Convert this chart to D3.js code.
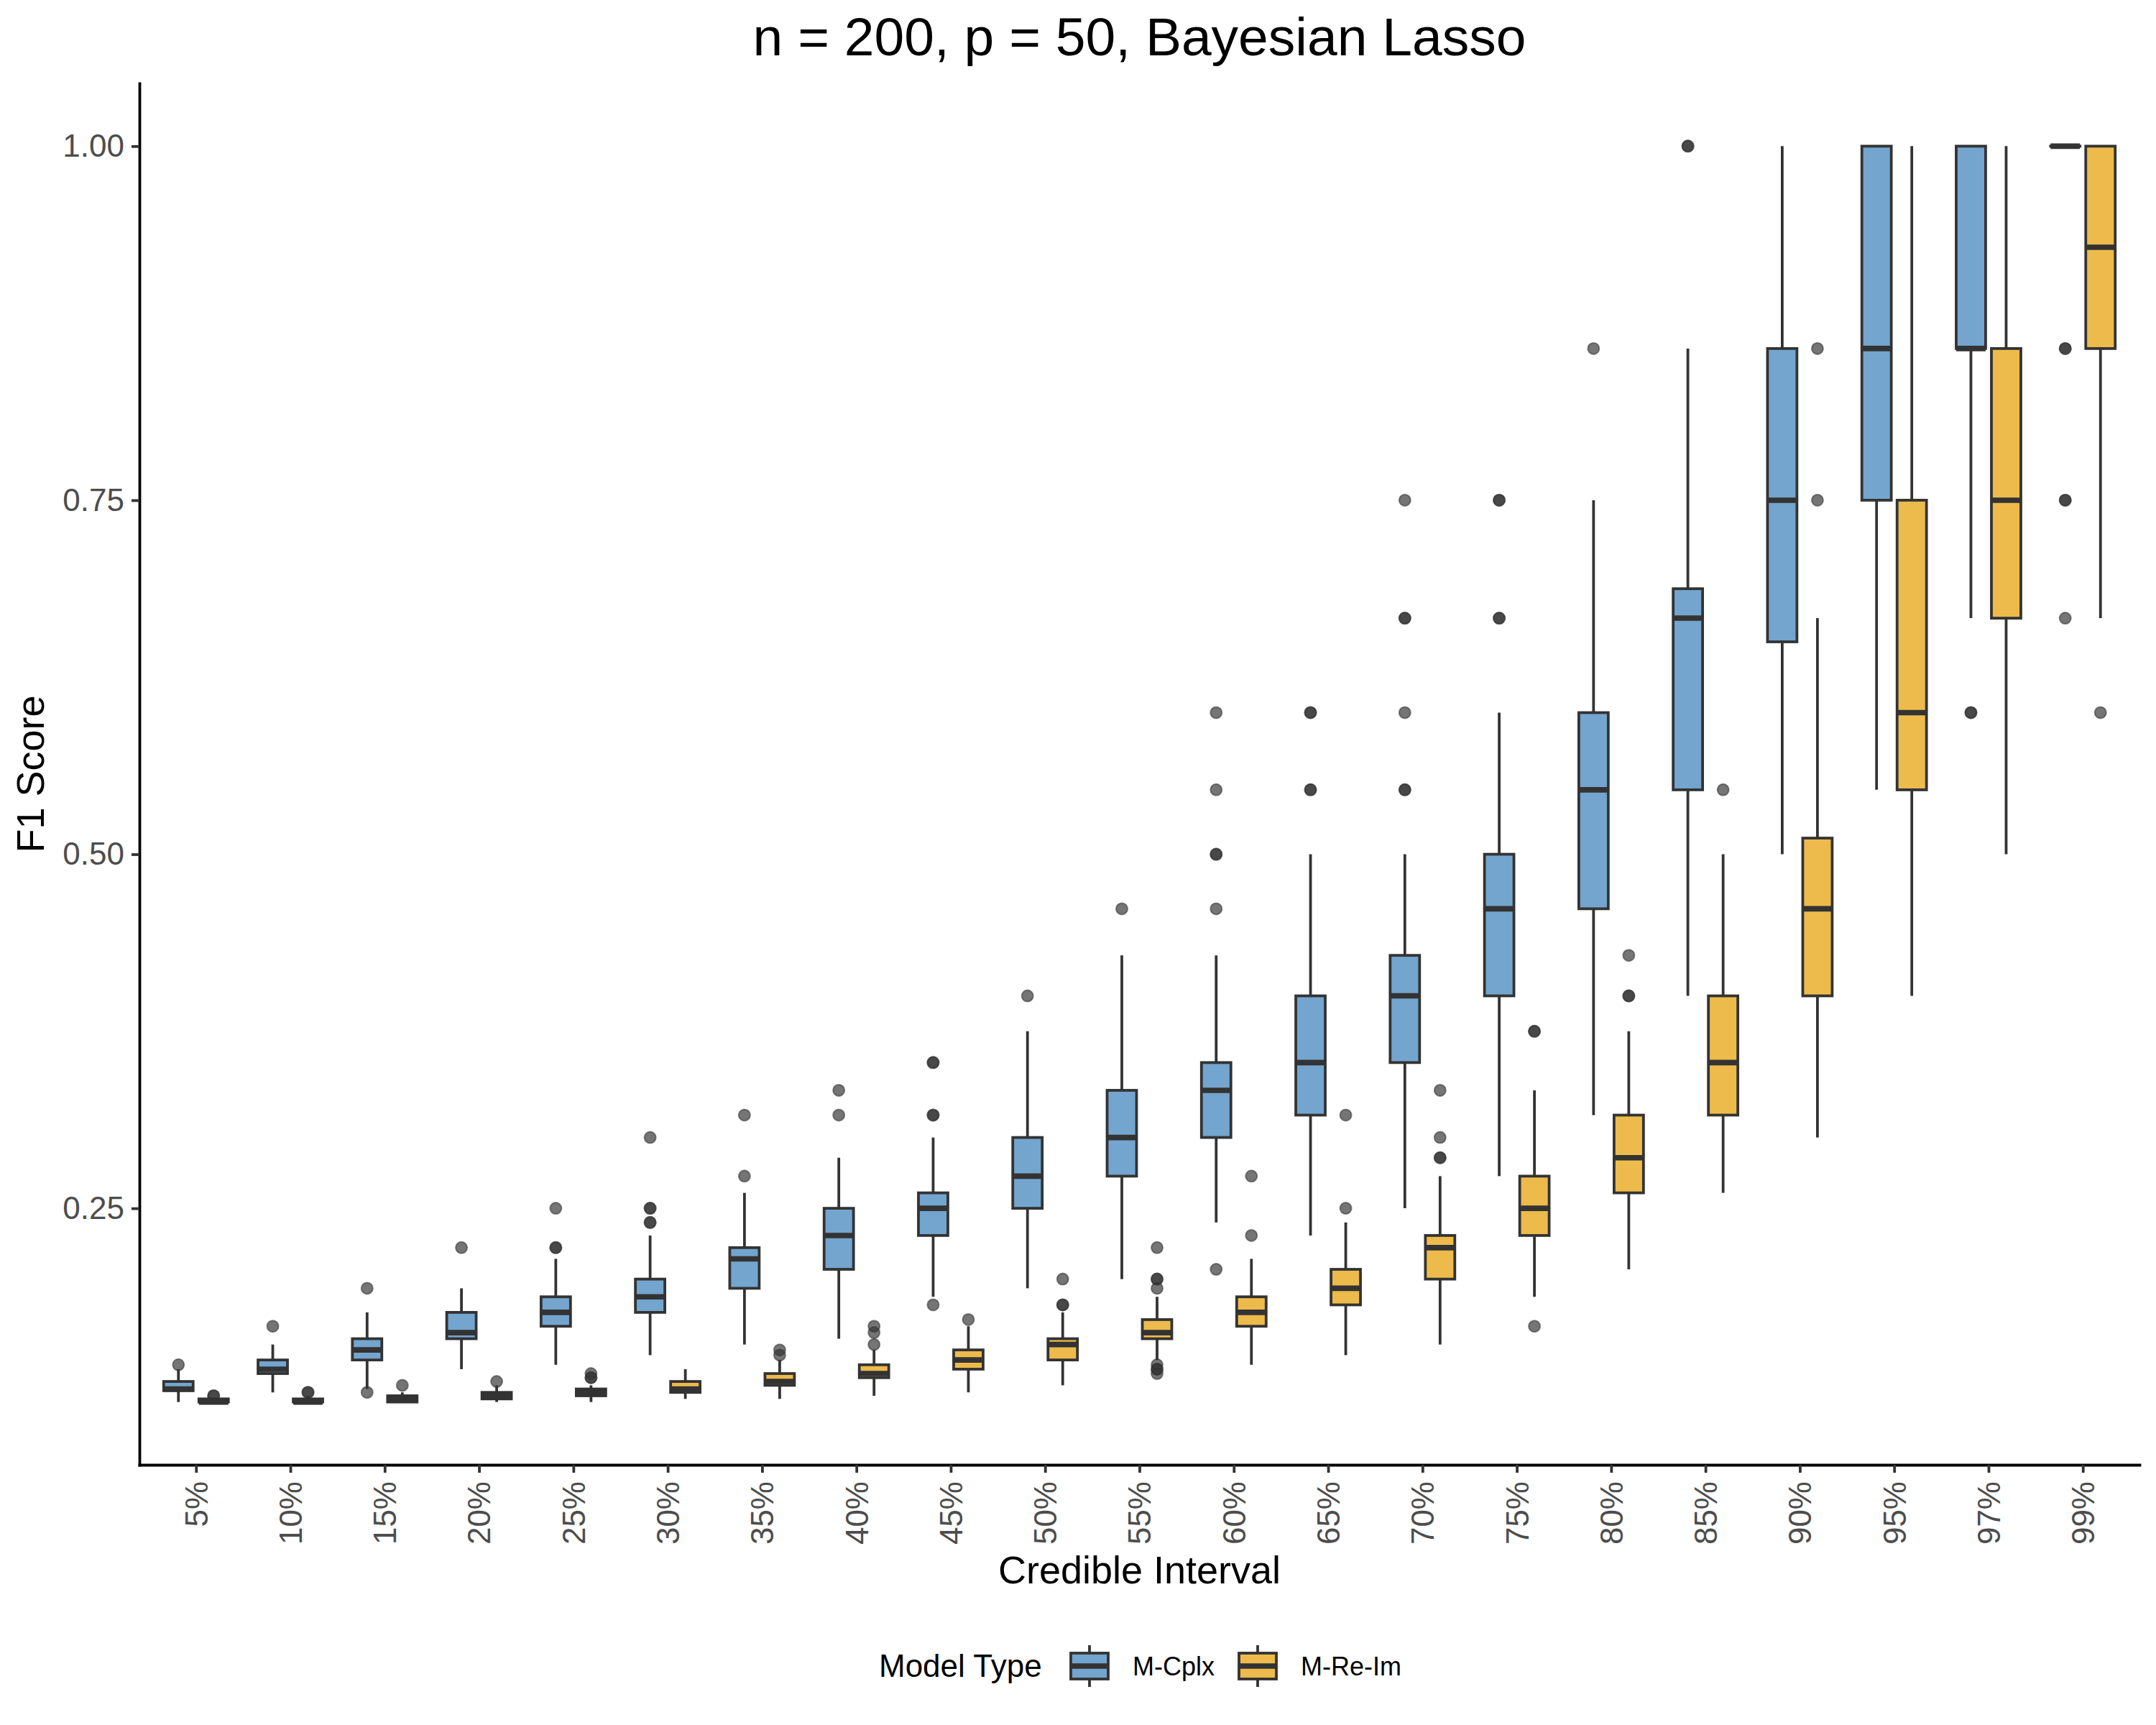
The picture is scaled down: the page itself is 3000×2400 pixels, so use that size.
<!DOCTYPE html>
<html>
<head>
<meta charset="utf-8">
<script src="https://cdn.jsdelivr.net/npm/d3@7"></script>
<style>
  html, body { margin: 0; padding: 0; background: #ffffff; }
  svg { display: block; }
  text { font-family: "Liberation Sans", Arial, Helvetica, sans-serif; }
</style>
</head>
<body>
<script>
// ---------------- DATA ----------------
const categories = ["5%","10%","15%","20%","25%","30%","35%","40%","45%","50%","55%","60%","65%","70%","75%","80%","85%","90%","95%","97%","99%"];
const seriesNames = ["M-Cplx", "M-Re-Im"];
const seriesColors = ["#73A5CE", "#EDBB4B"];
const yTicks = [0.25, 0.50, 0.75, 1.00];

// M-Cplx box statistics (lower whisker, Q1, median, Q3, upper whisker, outliers)
const cplxLow  = [0.1132,0.1200,0.1224,0.1364,0.1395,0.1463,0.1538,0.1579,0.1875,0.1935,0.2000,0.2400,0.2308,0.2500,0.2727,0.3158,0.4000,0.5000,0.5455,0.6667,1.0000];
const cplxQ1   = [0.1212,0.1333,0.1429,0.1579,0.1667,0.1765,0.1935,0.2069,0.2308,0.2500,0.2727,0.3000,0.3158,0.3529,0.4000,0.4615,0.5455,0.6500,0.7500,0.8571,1.0000];
const cplxMed  = [0.1224,0.1364,0.1500,0.1622,0.1765,0.1875,0.2143,0.2308,0.2500,0.2727,0.3000,0.3333,0.3529,0.4000,0.4615,0.5455,0.6667,0.7500,0.8571,0.8571,1.0000];
const cplxQ3   = [0.1277,0.1429,0.1579,0.1765,0.1875,0.2000,0.2222,0.2500,0.2609,0.3000,0.3333,0.3529,0.4000,0.4286,0.5000,0.6000,0.6875,0.8571,1.0000,1.0000,1.0000];
const cplxHigh = [0.1364,0.1538,0.1765,0.1935,0.2143,0.2308,0.2609,0.2857,0.3000,0.3750,0.4286,0.4286,0.5000,0.5000,0.6000,0.7500,0.8571,1.0000,1.0000,1.0000,1.0000];
const cplxOut  = [
  [0.1395],[0.1667],[0.1935,0.1200],[0.2222],[0.2500,0.2222,0.2222],
  [0.3000,0.2500,0.2500,0.2400,0.2400],[0.3158,0.2727],[0.3333,0.3158],
  [0.3529,0.3529,0.3158,0.3158,0.1818],[0.4000],[0.4615],
  [0.6000,0.5455,0.5000,0.5000,0.4615,0.2069],[0.6000,0.6000,0.5455,0.5455],
  [0.7500,0.6667,0.6667,0.6000,0.5455,0.5455],[0.7500,0.7500,0.6667,0.6667],
  [0.8571],[1.0000,1.0000],[],[],[0.6000,0.6000],[0.8571,0.8571,0.7500,0.7500,0.6667]
];

// M-Re-Im box statistics
const reimLow  = [0.1132,0.1132,0.1132,0.1132,0.1132,0.1154,0.1154,0.1176,0.1200,0.1250,0.1429,0.1395,0.1463,0.1538,0.1875,0.2069,0.2609,0.3000,0.4000,0.5000,0.6667];
const reimQ1   = [0.1132,0.1132,0.1132,0.1154,0.1176,0.1200,0.1250,0.1304,0.1364,0.1429,0.1579,0.1667,0.1818,0.2000,0.2308,0.2609,0.3158,0.4000,0.5455,0.6667,0.8571];
const reimMed  = [0.1132,0.1132,0.1154,0.1176,0.1200,0.1224,0.1277,0.1333,0.1429,0.1538,0.1622,0.1765,0.1935,0.2222,0.2500,0.2857,0.3529,0.4615,0.6000,0.7500,0.9286];
const reimQ3   = [0.1154,0.1154,0.1176,0.1200,0.1224,0.1277,0.1333,0.1395,0.1500,0.1579,0.1714,0.1875,0.2069,0.2308,0.2727,0.3158,0.4000,0.5114,0.7500,0.8571,1.0000];
const reimHigh = [0.1154,0.1176,0.1200,0.1250,0.1250,0.1364,0.1429,0.1500,0.1667,0.1765,0.1875,0.2143,0.2400,0.2727,0.3333,0.3750,0.5000,0.6667,1.0000,1.0000,1.0000];
const reimOut  = [
  [0.1176,0.1176],[0.1200,0.1200],[0.1250],[0.1277],[0.1333,0.1304,0.1304],
  [],[0.1500,0.1463],[0.1667,0.1622,0.1538],[0.1714],[0.2000,0.1818,0.1818],
  [0.2222,0.2000,0.2000,0.1935,0.1395,0.1364,0.1364,0.1333],[0.2727,0.2308],
  [0.3158,0.2500],[0.3333,0.3000,0.2857,0.2857],[0.3750,0.3750,0.1667],
  [0.4286,0.4000,0.4000],[0.5455],[0.8571,0.7500],[],[],[0.6000]
];

// ---------------- LAYOUT ----------------
const W = 3000, H = 2400;
const plotL = 194, plotR = 2977, plotT = 116, plotB = 2038;
const dark = "#333333";
const lw = 3.8;

const svg = d3.select("body").append("svg")
  .attr("width", W).attr("height", H)
  .attr("viewBox", `0 0 ${W} ${H}`);
svg.append("rect").attr("width", W).attr("height", H).attr("fill", "#ffffff");

const x = d3.scalePoint().domain(categories).range([plotL, plotR]).padding(0.6);
const step = x.step();
const dataMin = d3.min([d3.min(cplxLow), d3.min(reimLow)]);
const dataMax = 1.0;
const ex = (dataMax - dataMin) * 0.05;
const y = d3.scaleLinear().domain([dataMin - ex, dataMax + ex]).range([plotB, plotT]);

const dodge = step * 0.1867;
const boxW = step * 0.312;

const seriesStats = [
  {low: cplxLow, q1: cplxQ1, med: cplxMed, q3: cplxQ3, high: cplxHigh, out: cplxOut},
  {low: reimLow, q1: reimQ1, med: reimMed, q3: reimQ3, high: reimHigh, out: reimOut}
];

const gPlot = svg.append("g");

seriesStats.forEach((s, si) => {
  const off = si === 0 ? -dodge : dodge;
  const rows = categories.map((c, i) => ({
    c, low: s.low[i], q1: s.q1[i], med: s.med[i], q3: s.q3[i], high: s.high[i], out: s.out[i]
  }));
  const g = gPlot.append("g").attr("class", "series-" + si);

  // outliers
  rows.forEach(r => {
    g.selectAll(null).data(r.out).enter().append("circle")
      .attr("cx", x(r.c) + off)
      .attr("cy", d => y(d))
      .attr("r", 8)
      .attr("fill", dark)
      .attr("fill-opacity", 0.68)
      .attr("stroke", dark)
      .attr("stroke-opacity", 0.55)
      .attr("stroke-width", 2);
  });

  // whiskers
  g.selectAll(".wu").data(rows).enter().append("line")
    .attr("x1", d => x(d.c) + off).attr("x2", d => x(d.c) + off)
    .attr("y1", d => y(d.q3)).attr("y2", d => y(d.high))
    .attr("stroke", dark).attr("stroke-width", lw);
  g.selectAll(".wl").data(rows).enter().append("line")
    .attr("x1", d => x(d.c) + off).attr("x2", d => x(d.c) + off)
    .attr("y1", d => y(d.q1)).attr("y2", d => y(d.low))
    .attr("stroke", dark).attr("stroke-width", lw);

  // boxes
  g.selectAll(".box").data(rows).enter().append("rect")
    .attr("x", d => x(d.c) + off - boxW / 2)
    .attr("width", boxW)
    .attr("y", d => y(d.q3))
    .attr("height", d => Math.max(0.01, y(d.q1) - y(d.q3)))
    .attr("fill", seriesColors[si])
    .attr("stroke", dark).attr("stroke-width", lw);

  // medians
  g.selectAll(".med").data(rows).enter().append("line")
    .attr("x1", d => x(d.c) + off - boxW / 2).attr("x2", d => x(d.c) + off + boxW / 2)
    .attr("y1", d => y(d.med)).attr("y2", d => y(d.med))
    .attr("stroke", dark).attr("stroke-width", lw * 2);
});

// ---------------- AXES ----------------
const yAxis = svg.append("g").attr("transform", `translate(${plotL},0)`)
  .call(d3.axisLeft(y).tickValues(yTicks).tickFormat(d3.format(".2f")).tickSize(11).tickSizeOuter(0).tickPadding(10));
yAxis.select(".domain").attr("stroke", "#000").attr("stroke-width", lw).attr("stroke-linecap", "square");
yAxis.selectAll(".tick line").attr("stroke", dark).attr("stroke-width", lw);
yAxis.selectAll(".tick text").attr("fill", "#4D4D4D").style("font-size", "44px")
  .style("font-family", '"Liberation Sans", Arial, Helvetica, sans-serif');

const xAxis = svg.append("g").attr("transform", `translate(0,${plotB})`)
  .call(d3.axisBottom(x).tickSize(11).tickSizeOuter(0).tickPadding(11));
xAxis.select(".domain").attr("stroke", "#000").attr("stroke-width", lw).attr("stroke-linecap", "square");
xAxis.selectAll(".tick line").attr("stroke", dark).attr("stroke-width", lw);
xAxis.selectAll(".tick text")
  .attr("fill", "#4D4D4D").style("font-size", "44px")
  .style("font-family", '"Liberation Sans", Arial, Helvetica, sans-serif')
  .attr("y", 0).attr("x", -23).attr("dy", "0.35em")
  .attr("transform", "rotate(-90)")
  .style("text-anchor", "end");

// ---------------- TITLES ----------------
const cx = (plotL + plotR) / 2;
svg.append("text").attr("x", cx).attr("y", 77).attr("text-anchor", "middle")
  .style("font-size", "75px").attr("fill", "#000")
  .text("n = 200, p = 50, Bayesian Lasso");

svg.append("text").attr("x", cx).attr("y", 2203).attr("text-anchor", "middle")
  .style("font-size", "54px").attr("fill", "#000")
  .text("Credible Interval");

svg.append("text")
  .attr("transform", `translate(61,${(plotT + plotB) / 2}) rotate(-90)`)
  .attr("text-anchor", "middle")
  .style("font-size", "54px").attr("fill", "#000")
  .text("F1 Score");

// ---------------- LEGEND ----------------
const leg = svg.append("g");
const legCy = 2318;
leg.append("text").attr("x", 1223).attr("y", 2333)
  .style("font-size", "44px").attr("fill", "#000").text("Model Type");

const keyX = [1516, 1750];
const labX = [1576, 1810];
seriesNames.forEach((name, i) => {
  const kx = keyX[i];
  leg.append("line").attr("x1", kx).attr("x2", kx).attr("y1", 2289).attr("y2", 2347)
    .attr("stroke", dark).attr("stroke-width", lw);
  leg.append("rect").attr("x", kx - 26).attr("width", 52)
    .attr("y", 2300).attr("height", 36)
    .attr("fill", seriesColors[i]).attr("stroke", dark).attr("stroke-width", lw);
  leg.append("line").attr("x1", kx - 26).attr("x2", kx + 26).attr("y1", legCy).attr("y2", legCy)
    .attr("stroke", dark).attr("stroke-width", lw * 2);
  leg.append("text").attr("x", labX[i]).attr("y", legCy + 13)
    .style("font-size", "36px").attr("fill", "#000").text(name);
});
</script>
</body>
</html>
